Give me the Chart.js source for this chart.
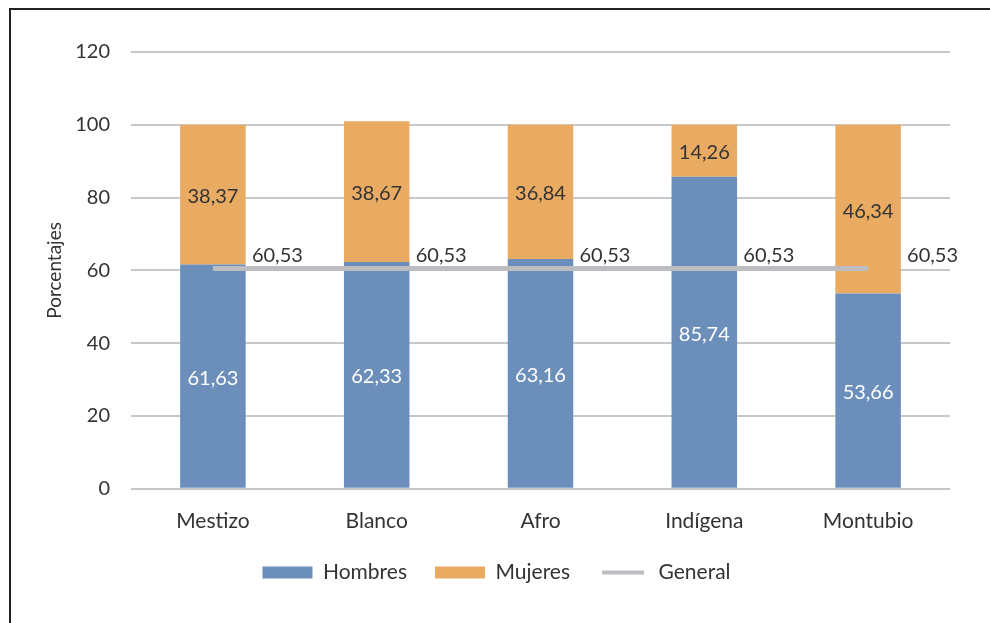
<!DOCTYPE html>
<html>
<head>
<meta charset="utf-8">
<script src="https://cdn.jsdelivr.net/npm/chart.js@4.4.1/dist/chart.umd.min.js"></script>
<style>
  html, body { margin: 0; padding: 0; background: #fff; }
  #frame {
    position: absolute; left: 9px; top: 8px; width: 981px; height: 615px;
    border-top: 2px solid #222; border-left: 2px solid #222;
  }
  #wrap { position: relative; width: 979px; height: 613px; }
</style>
</head>
<body>
<div id="frame"><div id="wrap"><canvas id="grupos"></canvas></div></div>
<script>
// Datos
const categorias = ['Mestizo', 'Blanco', 'Afro', 'Indígena', 'Montubio'];
const hombres = [61.63, 62.33, 63.16, 85.74, 53.66];
const mujeres = [38.37, 38.67, 36.84, 14.26, 46.34];
const general = [60.53, 60.53, 60.53, 60.53, 60.53];
const ticksY = [0, 20, 40, 60, 80, 100, 120];

const azul = '#6b8fba';
const naranja = '#e9aa62';
const gris = '#bcbdc1';
const texto = '#333333';
const fuente = 'Lato, "Open Sans", sans-serif';

const fmt = v => v.toFixed(2).replace('.', ',');

// Etiquetas de datos (sin plugin externo)
const etiquetas = {
    id: 'etiquetas',
    afterDatasetsDraw(chart) {
        const ctx = chart.ctx;
        ctx.save();
        ctx.font = '20px ' + fuente;
        chart.data.datasets.forEach((ds, i) => {
            const meta = chart.getDatasetMeta(i);
            meta.data.forEach((el, j) => {
                const v = ds.data[j];
                if (ds.type === 'line') {
                    ctx.fillStyle = texto;
                    ctx.textAlign = 'left';
                    ctx.textBaseline = 'middle';
                    ctx.fillText(fmt(v), el.x + 39, el.y - 13);
                } else {
                    ctx.fillStyle = ds.label === 'Hombres' ? '#ffffff' : texto;
                    ctx.textAlign = 'center';
                    ctx.textBaseline = 'middle';
                    ctx.fillText(fmt(v), el.x, (el.y + el.base) / 2 + 2);
                }
            });
        });
        ctx.restore();
    }
};

// La leyenda del original está algo desplazada a la derecha
const moverLeyenda = {
    id: 'moverLeyenda',
    afterLayout(chart) {
        if (chart.legend) {
            chart.legend.left += 16;
            chart.legend.right += 16;
        }
    }
};

const ctx = document.getElementById('grupos').getContext('2d');
const chart = new Chart(ctx, {
    data: {
        labels: categorias,
        datasets: [
            { type: 'bar', label: 'Hombres', data: hombres, backgroundColor: azul, order: 2 },
            { type: 'bar', label: 'Mujeres', data: mujeres, backgroundColor: naranja, order: 2 },
            { type: 'line', label: 'General', data: general, borderColor: gris, backgroundColor: gris,
              borderWidth: 5, pointRadius: 0, stack: 'gen', order: 0 }
        ]
    },
    plugins: [etiquetas, moverLeyenda],
    options: {
        responsive: true,
        maintainAspectRatio: false,
        animation: false,
        layout: { padding: { left: 0, right: 40, top: 42, bottom: 30 } },
        datasets: { bar: { barPercentage: 0.40, categoryPercentage: 1.0 } },
        scales: {
            x: {
                stacked: true,
                afterFit(scale) { scale.height = scale.height - 12; },
                grid: { display: false },
                border: { display: false },
                ticks: { color: texto, font: { family: fuente, size: 21 }, padding: 12 }
            },
            y: {
                stacked: true,
                min: 0,
                max: 120,
                afterFit(scale) { scale.width = 120; },
                afterBuildTicks(scale) { scale.ticks = ticksY.map(v => ({ value: v })); },
                grid: { color: '#c8c8cc', lineWidth: 2, drawTicks: false },
                border: { display: false },
                ticks: { color: texto, font: { family: fuente, size: 20 }, padding: 21 },
                title: {
                    display: true,
                    text: 'Porcentajes',
                    color: texto,
                    font: { family: fuente, size: 19 },
                    padding: { top: 32 }
                }
            }
        },
        plugins: {
            tooltip: { enabled: false },
            legend: {
                position: 'bottom',
                labels: {
                    color: texto,
                    font: { family: fuente, size: 21 },
                    boxWidth: 50,
                    boxHeight: 12,
                    padding: 28,
                    generateLabels(chart) {
                        return chart.data.datasets.map((ds, i) => {
                            const linea = ds.type === 'line';
                            return {
                                text: ds.label,
                                fillStyle: linea ? gris : ds.backgroundColor,
                                strokeStyle: '#ffffff',
                                lineWidth: linea ? 8 : 0,
                                fontColor: texto,
                                hidden: false,
                                datasetIndex: i
                            };
                        });
                    }
                }
            }
        }
    }
});
</script>
</body>
</html>
